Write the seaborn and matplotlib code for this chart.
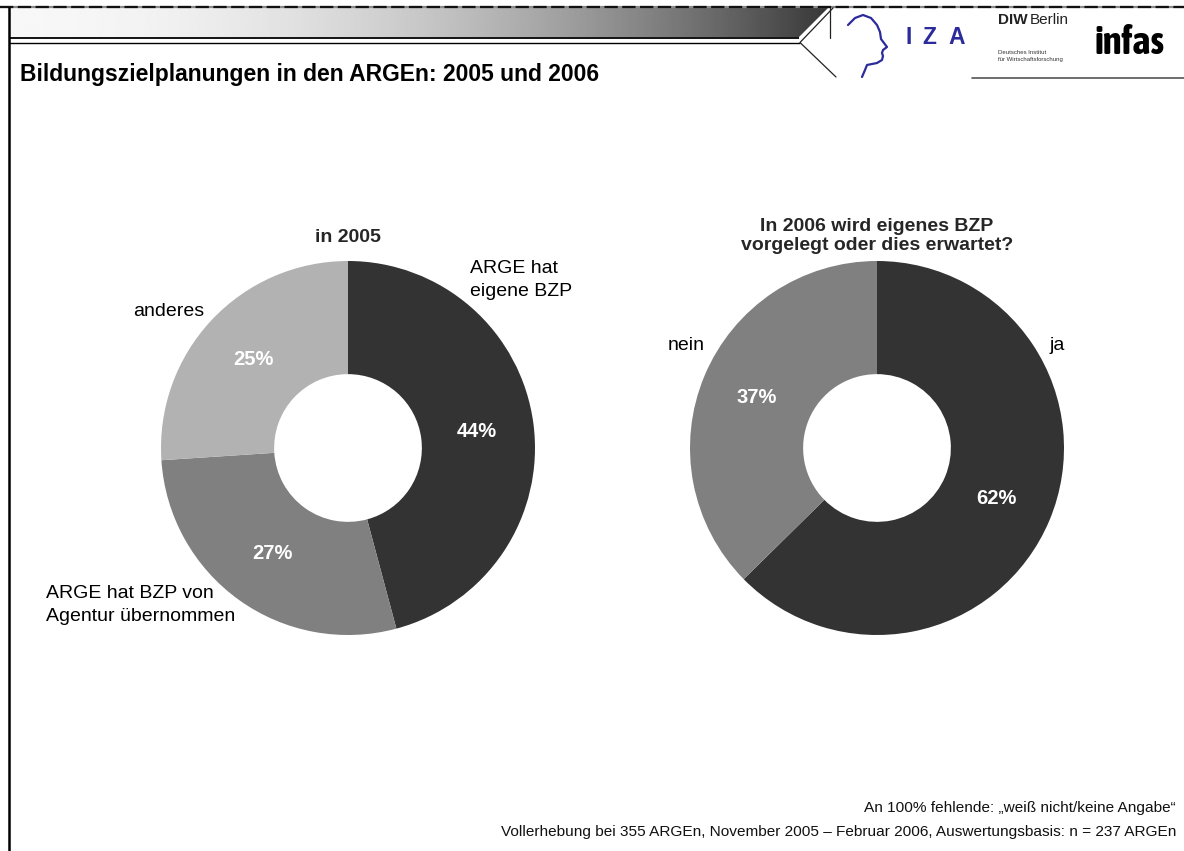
import numpy as np
import matplotlib
matplotlib.use("Agg")
import matplotlib.pyplot as plt
from matplotlib.patches import Polygon
from matplotlib import font_manager
import seaborn as sns

# ---------------- data ----------------
left_title = "in 2005"
left_labels = ["ARGE hat\neigene BZP", "ARGE hat BZP von\nAgentur übernommen", "anderes"]
left_values = [44, 27, 25]

right_title = "In 2006 wird eigenes BZP\nvorgelegt oder dies erwartet?"
right_labels = ["ja", "nein"]
right_values = [62, 37]

main_title = "Bildungszielplanungen in den ARGEn: 2005 und 2006"
note1 = "An 100% fehlende: \u201eweiß nicht/keine Angabe\u201c"
note2 = "Vollerhebung bei 355 ARGEn, November 2005 \u2013 Februar 2006, Auswertungsbasis: n = 237 ARGEn"

# ---------------- style ----------------
sns.set_theme(style="white")
plt.rcParams["font.family"] = ["Liberation Sans", "DejaVu Sans"]
grays = sns.color_palette(["#333333", "#808080", "#b2b2b2"])

# look for a condensed (preferably bold) face for the "infas" logo
def _weight(f):
    w = f.weight
    if isinstance(w, str):
        return 700 if "bold" in w.lower() else 400
    return int(w)

infas_kw = dict(family=["Liberation Sans"])
named = [f for f in font_manager.fontManager.ttflist
         if "narrow" in f.name.lower() or "condensed" in f.name.lower()]
if named:
    bold_named = sorted({f.name for f in named if _weight(f) >= 600})
    infas_kw = dict(family=[bold_named[0] if bold_named else sorted({f.name for f in named})[0]])
else:
    stretched = [f.name for f in font_manager.fontManager.ttflist
                 if str(f.stretch) in ("condensed", "extra-condensed", "ultra-condensed")]
    if stretched:
        infas_kw = dict(family=[stretched[0]], fontstretch="condensed")

W, H = 1184, 851
fig = plt.figure(figsize=(W / 100, H / 100), dpi=100)
fig.patch.set_facecolor("white")

bg = fig.add_axes([0, 0, 1, 1])
bg.set_xlim(0, W)
bg.set_ylim(H, 0)
bg.axis("off")

# header gradient band
t = np.linspace(0, 1, 400)
grad = (0.97 - 0.75 * t ** 2)[None, :]
im = bg.imshow(grad, extent=[9, 828, 37, 8], cmap="gray", vmin=0, vmax=1,
               aspect="auto", zorder=1)
clip = Polygon([(9, 8), (828, 8), (799, 37), (9, 37)], closed=True,
               transform=bg.transData, facecolor="none", edgecolor="none")
bg.add_patch(clip)
im.set_clip_path(clip)
bg.set_xlim(0, W)
bg.set_ylim(H, 0)

line_kw = dict(color="black", solid_capstyle="butt", zorder=2)
bg.plot([0, W], [6.5, 6.5], lw=1.6, color="#8a8a8a", zorder=2)
bg.plot([0, W], [6.5, 6.5], lw=1.6, color="#111111", ls=(0, (6, 2)), zorder=2)
bg.plot([9, 799], [37.5, 37.5], lw=1.3, **line_kw)
bg.plot([9, 800], [42.5, 42.5], lw=1.0, **line_kw)
bg.plot([833, 800, 836], [8, 42.5, 77], lw=0.9, color="#222222", zorder=2)
bg.plot([830, 830], [8, 38], lw=0.9, color="#222222", zorder=2)
bg.plot([972, W], [77.5, 77.5], lw=1.2, color="#555555", zorder=2)
bg.plot([8.5, 8.5], [7, H], lw=1.8, **line_kw)

# IZA logo (stylised head profile)
head_x = [848, 855, 863, 871, 877, 880, 881, 884, 887, 883, 882, 883, 882, 877, 872, 867, 865, 862]
head_y = [25, 18, 15, 18, 25, 32, 39, 43, 47, 50, 53, 56, 60, 63, 64, 65, 70, 77]
bg.plot(head_x, head_y, color="#2b2b9c", lw=1.6, zorder=2, solid_capstyle="round")

# ---------------- donuts ----------------
R = 187
def donut(cx, cy, values, colors):
    ax = fig.add_axes([(cx - R) / W, 1 - (cy + R) / H, 2 * R / W, 2 * R / H])
    total = sum(values)
    ax.pie(
        values, colors=colors, startangle=90, counterclock=False, radius=1,
        wedgeprops=dict(width=0.605, linewidth=0),
        autopct=lambda p: f"{p * total / 100:.0f}%", pctdistance=0.695,
        textprops=dict(color="white", fontsize=14.5, fontweight="bold"))
    ax.set_xlim(-1, 1)
    ax.set_ylim(-1, 1)
    ax.set_aspect("equal")
    ax.axis("off")
    return ax

donut(348, 448, left_values, grays[:3])
donut(877, 448, right_values, [grays[0], grays[1]])

# ---------------- text overlay ----------------
top = fig.add_axes([0, 0, 1, 1])
top.set_xlim(0, W)
top.set_ylim(H, 0)
top.axis("off")
top.patch.set_alpha(0)

# IZA letters
iza_kw = dict(ha="center", va="center", fontsize=16.5, fontweight="bold", color="#2b2b9c")
for ch, x in zip("IZA", [909, 929, 957]):
    top.text(x, 37, ch, **iza_kw)

# DIW logo
top.text(998, 20, "DIW", ha="left", va="center", fontsize=11, fontweight="bold", color="#222222")
top.text(1030, 20, "Berlin", ha="left", va="center", fontsize=11, color="#222222")
top.text(998, 53, "Deutsches Institut", ha="left", va="center", fontsize=4.3, color="#333333")
top.text(998, 59.5, "für Wirtschaftsforschung", ha="left", va="center", fontsize=4.3, color="#333333")

# infas logo, sized to fit its slot (about 70 px wide)
infas = top.text(1129, 43, "infas", ha="center", va="center", fontweight="bold",
                 color="black", fontsize=20, **infas_kw)
renderer = fig.canvas.get_renderer()
wpx = infas.get_window_extent(renderer=renderer).width
infas.set_fontsize(min(34, 20 * 70.0 / max(wpx, 1)))

# main title
top.text(20, 74, main_title, ha="left", va="center", fontsize=16.5, fontweight="bold",
         color="black")

# footnotes
top.text(1176, 808, note1, ha="right", va="center", fontsize=11.1, color="#111111")
top.text(1176, 832, note2, ha="right", va="center", fontsize=11.1, color="#111111")

# pie titles
top.text(348, 238, left_title, ha="center", va="center", fontsize=14, fontweight="bold")
top.text(877, 236, right_title, ha="center", va="center", fontsize=14,
         fontweight="bold", linespacing=1.15)

# category labels
lab_kw = dict(fontsize=14, color="black", va="center", ha="left", linespacing=1.45)
top.text(470, 280, left_labels[0], **lab_kw)
top.text(46, 605, left_labels[1], **lab_kw)
top.text(133, 312, left_labels[2], **lab_kw)
top.text(1050, 345, right_labels[0], **lab_kw)
top.text(668, 345, right_labels[1], **lab_kw)

fig.savefig("out.png", dpi=100, facecolor="white")
